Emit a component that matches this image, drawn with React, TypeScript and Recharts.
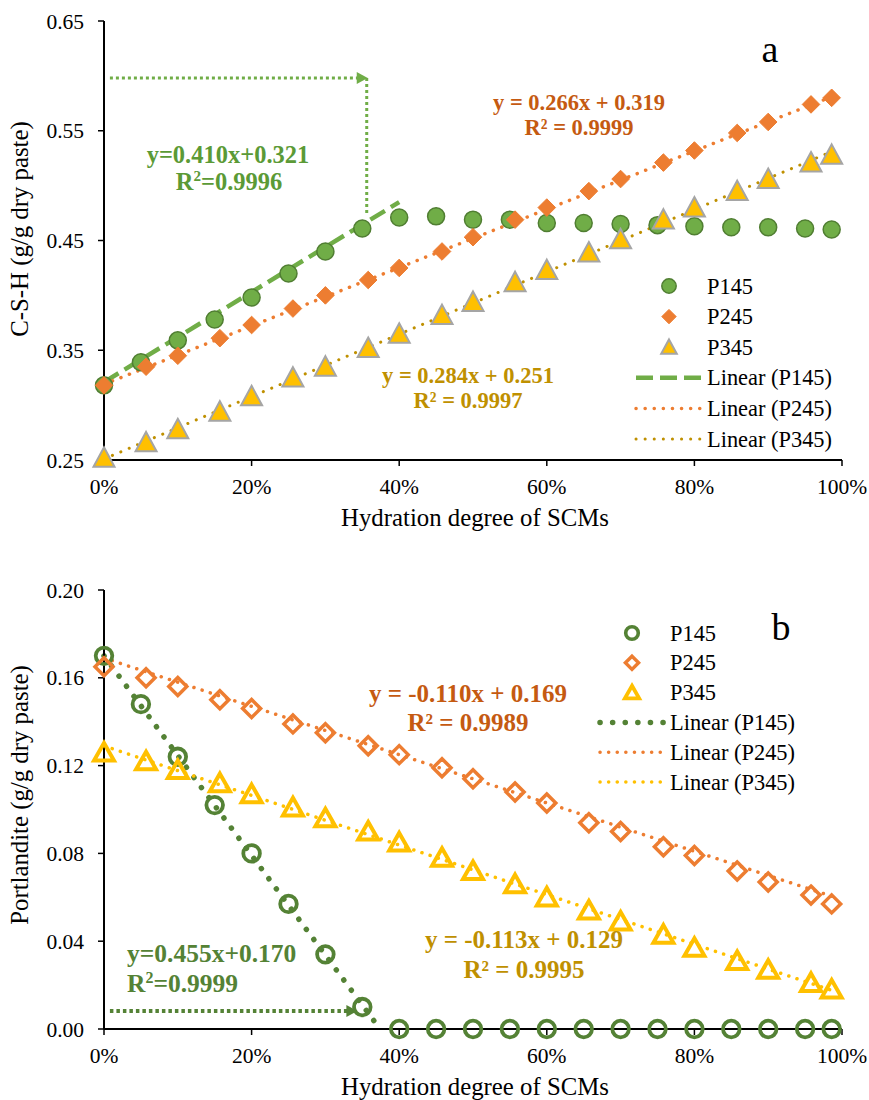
import React from "react";
import {
  ComposedChart,
  Scatter,
  Line,
  XAxis,
  YAxis,
  ReferenceLine,
  ReferenceDot
} from "recharts";

const SERIF = "Liberation Serif, DejaVu Serif, Times New Roman, serif";

// hydration degree (%) of the sampled points
const hydration = [0, 5, 10, 15, 20, 25, 30, 35, 40, 45, 50, 55, 60, 65, 70, 75, 80, 85, 90, 95, 98.6];
const hydrationShifted = [0, 5.7, 10, 15.7, 20, 25.6, 30, 35.8, 40, 45.8, 50, 55.7, 60, 65.7, 70, 75.8, 80, 85.8, 90, 95.8, 98.6];

const xTicks = [0, 20, 40, 60, 80, 100];

// (a) C-S-H content
const cshTicks = [0.25, 0.35, 0.45, 0.55, 0.65];
const cshP145 = [0.318, 0.339, 0.359, 0.378, 0.398, 0.420, 0.440, 0.461, 0.471, 0.472, 0.469, 0.469, 0.466, 0.466, 0.465, 0.464, 0.463, 0.462, 0.462, 0.461, 0.460];
const cshP245 = [0.318, 0.335, 0.345, 0.361, 0.373, 0.388, 0.400, 0.414, 0.425, 0.440, 0.453, 0.469, 0.480, 0.495, 0.506, 0.521, 0.532, 0.548, 0.558, 0.574, 0.580];
const cshP345 = [0.252, 0.266, 0.278, 0.294, 0.308, 0.325, 0.335, 0.352, 0.365, 0.382, 0.394, 0.412, 0.423, 0.439, 0.451, 0.469, 0.480, 0.495, 0.506, 0.521, 0.528];
const cshTrendP145 = [{ x: 0, y: 0.321 }, { x: 40, y: 0.485 }];
const cshTrendP245 = [{ x: 0, y: 0.319 }, { x: 98.6, y: 0.581 }];
const cshTrendP345 = [{ x: 0, y: 0.251 }, { x: 98.6, y: 0.531 }];

// (b) Portlandite content
const chTicks = [0, 0.04, 0.08, 0.12, 0.16, 0.2];
const chP145 = [0.170, 0.148, 0.124, 0.102, 0.080, 0.057, 0.034, 0.010, 0, 0, 0, 0, 0, 0, 0, 0, 0, 0, 0, 0, 0];
const chP245 = [0.165, 0.160, 0.156, 0.150, 0.146, 0.139, 0.135, 0.129, 0.125, 0.119, 0.114, 0.108, 0.103, 0.094, 0.090, 0.083, 0.079, 0.072, 0.067, 0.061, 0.057];
const chP345 = [0.126, 0.122, 0.118, 0.112, 0.107, 0.101, 0.096, 0.090, 0.085, 0.078, 0.072, 0.066, 0.060, 0.054, 0.049, 0.043, 0.037, 0.031, 0.027, 0.021, 0.018];
const chTrendP145 = [{ x: 0, y: 0.170 }, { x: 37.4, y: 0 }];
const chTrendP245 = [{ x: 0, y: 0.169 }, { x: 98.6, y: 0.0605 }];
const chTrendP345 = [{ x: 0, y: 0.129 }, { x: 98.6, y: 0.0176 }];

const seriesNames = ["P145", "P245", "P345"];

const toPoints = (xs: number[], ys: number[]) => ys.map((y, i) => ({ x: xs[i], y }));

// marker shapes (s = half size)
const circleFilled = (s: number) => ({ cx, cy }: any) => (
  <circle cx={cx} cy={cy} r={s} fill="#70ad47" stroke="#507e32" strokeWidth={1.5} />
);
const diamondFilled = (s: number) => ({ cx, cy }: any) => (
  <polygon points={`${cx},${cy - s} ${cx + s},${cy} ${cx},${cy + s} ${cx - s},${cy}`} fill="#ed7d31" stroke="#ed7d31" strokeWidth={1} />
);
const triangleFilled = (s: number) => ({ cx, cy }: any) => (
  <polygon points={`${cx},${cy - s} ${cx + s},${cy + s * 0.85} ${cx - s},${cy + s * 0.85}`} fill="#ffc000" stroke="#a5a5a5" strokeWidth={2} />
);
const circleHollow = (s: number, w: number) => ({ cx, cy }: any) => (
  <circle cx={cx} cy={cy} r={s} fill="none" stroke="#548235" strokeWidth={w} />
);
const diamondHollow = (s: number, w: number) => ({ cx, cy }: any) => (
  <polygon points={`${cx},${cy - s} ${cx + s},${cy} ${cx},${cy + s} ${cx - s},${cy}`} fill="none" stroke="#ed7d31" strokeWidth={w} />
);
const triangleHollow = (s: number, w: number) => ({ cx, cy }: any) => (
  <polygon points={`${cx},${cy - s} ${cx + s * 1.05},${cy + s * 0.85} ${cx - s * 1.05},${cy + s * 0.85}`} fill="none" stroke="#ffc000" strokeWidth={w} />
);

const ArrowRight = (color: string) => ({ cx, cy }: any) => (
  <polygon points={`${cx - 10},${cy - 6} ${cx + 1},${cy} ${cx - 10},${cy + 6}`} fill={color} />
);

const tickStyle = { fontSize: 21.5, fill: "#000", fontFamily: SERIF };
const pct = (v: number) => `${v}%`;

const lineStyles = {
  topP145: { stroke: "#70ad47", strokeWidth: 4.5, strokeDasharray: "17 7" },
  topP245: { stroke: "#ed7d31", strokeWidth: 3.5, strokeDasharray: "0.1 9", strokeLinecap: "round" },
  topP345: { stroke: "#bf9000", strokeWidth: 3, strokeDasharray: "0.1 9", strokeLinecap: "round" },
  botP145: { stroke: "#548235", strokeWidth: 5.5, strokeDasharray: "0.1 12.5", strokeLinecap: "round" },
  botP245: { stroke: "#ed7d31", strokeWidth: 3.5, strokeDasharray: "0.1 8.5", strokeLinecap: "round" },
  botP345: { stroke: "#ffc000", strokeWidth: 3.5, strokeDasharray: "0.1 8.5", strokeLinecap: "round" }
};

function Frame({ yTicks, yDomain, fmt, height }: any) {
  return [
    <XAxis
      key="x"
      dataKey="x"
      type="number"
      domain={[0, 100]}
      ticks={xTicks}
      tickFormatter={pct}
      tick={tickStyle}
      tickSize={6}
      tickMargin={13}
      height={height}
      axisLine={{ stroke: "#000", strokeWidth: 2 }}
      tickLine={{ stroke: "#000", strokeWidth: 1.5 }}
    />,
    <YAxis
      key="y"
      dataKey="y"
      type="number"
      domain={yDomain}
      ticks={yTicks}
      tickFormatter={fmt}
      tick={tickStyle}
      tickSize={6}
      tickMargin={14}
      width={104}
      axisLine={{ stroke: "#000", strokeWidth: 2 }}
      tickLine={{ stroke: "#000", strokeWidth: 1.5 }}
    />,
    <XAxis key="xt" xAxisId="top" orientation="top" type="number" domain={[0, 100]} height={0} tick={false} tickLine={false} axisLine={{ stroke: "#000", strokeWidth: 1.5 }} />,
    <YAxis key="yr" yAxisId="right" orientation="right" type="number" domain={yDomain} width={0} tick={false} tickLine={false} axisLine={{ stroke: "#000", strokeWidth: 1.5 }} />
  ];
}

function ChartA() {
  return (
    <ComposedChart width={869} height={550} margin={{ top: 21, right: 27, bottom: 0, left: 0 }}>
      {Frame({ yTicks: cshTicks, yDomain: [0.25, 0.65], fmt: (v: number) => v.toFixed(2), height: 90 })}
      <ReferenceLine segment={[{ x: 0.8, y: 0.598 }, { x: 34.6, y: 0.598 }]} stroke="#70ad47" strokeWidth={3} strokeDasharray="3 3" />
      <ReferenceLine segment={[{ x: 35.6, y: 0.598 }, { x: 35.6, y: 0.475 }]} stroke="#70ad47" strokeWidth={3} strokeDasharray="3 3" />
      <ReferenceDot x={35.6} y={0.598} shape={ArrowRight("#70ad47")} />
      <Scatter name="P145" data={toPoints(hydration, cshP145)} shape={circleFilled(8.5)} isAnimationActive={false} />
      <Scatter name="P245" data={toPoints(hydrationShifted, cshP245)} shape={diamondFilled(8.8)} isAnimationActive={false} />
      <Scatter name="P345" data={toPoints(hydrationShifted, cshP345)} shape={triangleFilled(10.5)} isAnimationActive={false} />
      <Line data={cshTrendP145} dataKey="y" dot={false} activeDot={false} isAnimationActive={false} {...(lineStyles.topP145 as any)} />
      <Line data={cshTrendP245} dataKey="y" dot={false} activeDot={false} isAnimationActive={false} {...(lineStyles.topP245 as any)} />
      <Line data={cshTrendP345} dataKey="y" dot={false} activeDot={false} isAnimationActive={false} {...(lineStyles.topP345 as any)} />
    </ComposedChart>
  );
}

function ChartB() {
  return (
    <ComposedChart width={869} height={550} margin={{ top: 40, right: 27, bottom: 0, left: 0 }}>
      {Frame({ yTicks: chTicks, yDomain: [0, 0.2], fmt: (v: number) => v.toFixed(2), height: 71 })}
      <ReferenceLine segment={[{ x: 0.8, y: 0.0082 }, { x: 33, y: 0.0082 }]} stroke="#548235" strokeWidth={4} strokeDasharray="3.5 3" />
      <ReferenceDot x={34.2} y={0.0082} shape={ArrowRight("#548235")} />
      <Scatter name="P145" data={toPoints(hydration, chP145)} shape={circleHollow(8.3, 3.8)} isAnimationActive={false} />
      <Scatter name="P245" data={toPoints(hydrationShifted, chP245)} shape={diamondHollow(9, 3.5)} isAnimationActive={false} />
      <Scatter name="P345" data={toPoints(hydrationShifted, chP345)} shape={triangleHollow(9.5, 4)} isAnimationActive={false} />
      <Line data={chTrendP145} dataKey="y" dot={false} activeDot={false} isAnimationActive={false} {...(lineStyles.botP145 as any)} />
      <Line data={chTrendP245} dataKey="y" dot={false} activeDot={false} isAnimationActive={false} {...(lineStyles.botP245 as any)} />
      <Line data={chTrendP345} dataKey="y" dot={false} activeDot={false} isAnimationActive={false} {...(lineStyles.botP345 as any)} />
    </ComposedChart>
  );
}

function LegendBox({ x, y, markers, lines, step, sym, lx0, lx1 }: any) {
  return (
    <g fontFamily={SERIF} fontSize={22.4} fill="#000">
      {seriesNames.map((n, i) => {
        const M = markers[i];
        const cy = y + i * step;
        return (
          <g key={n}>
            <M cx={sym} cy={cy} />
            <text x={x} y={cy} dominantBaseline="central">{n}</text>
          </g>
        );
      })}
      {seriesNames.map((n, i) => {
        const cy = y + (i + 3) * step;
        return (
          <g key={"l" + n}>
            <line x1={lx0} x2={lx1} y1={cy} y2={cy} {...lines[i]} />
            <text x={x} y={cy} dominantBaseline="central">{`Linear (${n})`}</text>
          </g>
        );
      })}
    </g>
  );
}

function Overlay() {
  const green = "#548235";
  const orange = "#c55a11";
  const gold = "#bf9000";
  return (
    <svg width={869} height={1100} style={{ position: "absolute", left: 0, top: 0, pointerEvents: "none" }}>
      {/* panel a */}
      <text x={28} y={229} transform="rotate(-90 28 229)" textAnchor="middle" fontFamily={SERIF} fontSize={24.8}>C-S-H (g/g dry paste)</text>
      <text x={475} y={526} textAnchor="middle" fontFamily={SERIF} fontSize={24.8}>Hydration degree of SCMs</text>
      <text x={770} y={62} textAnchor="middle" fontFamily={SERIF} fontSize={38}>a</text>
      <g fontFamily={SERIF} fontWeight="bold" textAnchor="middle">
        <text x={228} y={163} fontSize={24.5} fill="#5b9a36">y=0.410x+0.321</text>
        <text x={229} y={190} fontSize={24.5} fill="#5b9a36">R<tspan fontSize={15} dy={-9}>2</tspan><tspan dy={9}>=0.9996</tspan></text>
        <text x={579} y={110} fontSize={22.5} fill={orange}>y = 0.266x + 0.319</text>
        <text x={579} y={135} fontSize={22.5} fill={orange}>R² = 0.9999</text>
        <text x={468} y={383} fontSize={22.5} fill={gold}>y = 0.284x + 0.251</text>
        <text x={468} y={408} fontSize={22.5} fill={gold}>R² = 0.9997</text>
      </g>
      <LegendBox
        x={707}
        y={286}
        step={30.6}
        sym={669}
        lx0={636}
        lx1={702}
        markers={[circleFilled(7.2), diamondFilled(7.2), triangleFilled(7.8)]}
        lines={[lineStyles.topP145, lineStyles.topP245, lineStyles.topP345]}
      />
      {/* panel b */}
      <text x={28} y={795} transform="rotate(-90 28 795)" textAnchor="middle" fontFamily={SERIF} fontSize={24.8}>Portlandite (g/g dry paste)</text>
      <text x={475} y={1095} textAnchor="middle" fontFamily={SERIF} fontSize={24.8}>Hydration degree of SCMs</text>
      <text x={781} y={640} textAnchor="middle" fontFamily={SERIF} fontSize={38}>b</text>
      <g fontFamily={SERIF} fontWeight="bold">
        <text x={468} y={702} textAnchor="middle" fontSize={25} fill={orange}>y = -0.110x + 0.169</text>
        <text x={468} y={731} textAnchor="middle" fontSize={25} fill={orange}>R² = 0.9989</text>
        <text x={524} y={948} textAnchor="middle" fontSize={25} fill={gold}>y = -0.113x + 0.129</text>
        <text x={524} y={978} textAnchor="middle" fontSize={25} fill={gold}>R² = 0.9995</text>
        <text x={127} y={962} fontSize={25.5} fill={green}>y=0.455x+0.170</text>
        <text x={127} y={992} fontSize={25.5} fill={green}>R<tspan fontSize={16} dy={-9}>2</tspan><tspan dy={9}>=0.9999</tspan></text>
      </g>
      <LegendBox
        x={670}
        y={633}
        step={29.8}
        sym={632}
        lx0={600}
        lx1={664}
        markers={[circleHollow(6.3, 3.6), diamondHollow(6.6, 3.4), triangleHollow(6.8, 3.8)]}
        lines={[lineStyles.botP145, lineStyles.botP245, lineStyles.botP345]}
      />
    </svg>
  );
}

export default function App() {
  return (
    <div style={{ position: "absolute", left: 0, top: 0, width: 869, height: 1100, background: "#fff", fontFamily: SERIF }}>
      <div style={{ position: "absolute", left: 0, top: 0 }}>
        <ChartA />
      </div>
      <div style={{ position: "absolute", left: 0, top: 550 }}>
        <ChartB />
      </div>
      <Overlay />
    </div>
  );
}
